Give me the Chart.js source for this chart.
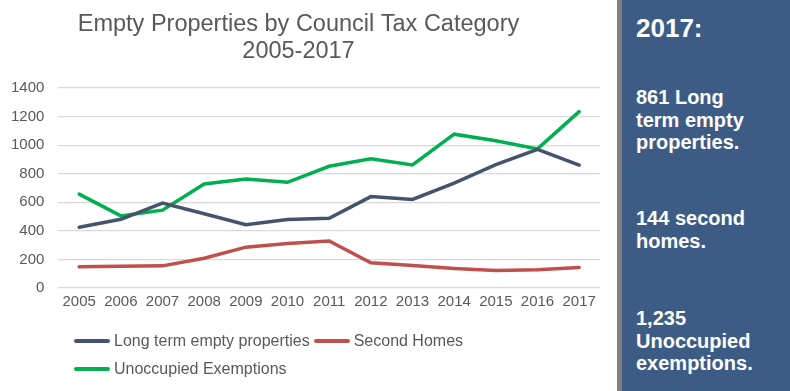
<!DOCTYPE html>
<html>
<head>
<meta charset="utf-8">
<script src="https://cdn.jsdelivr.net/npm/chart.js@4/dist/chart.umd.min.js"></script>
<style>
    html, body { margin: 0; padding: 0; background: #ffffff; }
    body { width: 790px; height: 391px; position: relative; overflow: hidden; font-family: "Liberation Sans", Arial, sans-serif; }
    #wrap { position: absolute; left: 0; top: 0; width: 612px; height: 391px; }
    #legend { position: absolute; left: 74px; top: 327px; width: 400px; display: flex; flex-wrap: wrap; column-gap: 4px; }
    .item { display: flex; align-items: center; height: 28px; font-size: 16px; color: #595959; }
    .swatch { display: inline-block; width: 36px; height: 4px; border-radius: 2px; margin-right: 4px; }
    #panel { position: absolute; left: 617px; top: 0; width: 168px; height: 391px; background: #3d5c85; border-left: 5px solid #808080; color: #ffffff; font-weight: bold; }
    #panel div { position: absolute; left: 14px; font-size: 20px; line-height: 22.5px; }
    #panel .year { font-size: 26px; line-height: 26px; top: 15px; }
</style>
</head>
<body>
<div id="wrap"><canvas id="chart" width="612" height="391"></canvas></div>
<div id="legend"></div>
<div id="panel">
    <div class="year">2017:</div>
    <div style="top: 86px;">861 Long<br>term empty<br>properties.</div>
    <div style="top: 207px;">144 second<br>homes.</div>
    <div style="top: 307px;">1,235<br>Unoccupied<br>exemptions.</div>
</div>

<script>
// data
const years = ['2005', '2006', '2007', '2008', '2009', '2010', '2011', '2012', '2013', '2014', '2015', '2016', '2017'];
const longTermEmpty = [425, 481, 595, 520, 443, 480, 488, 640, 620, 735, 864, 970, 861];
const secondHomes = [148, 153, 155, 208, 286, 312, 329, 176, 157, 137, 123, 128, 144];
const unoccupiedExemptions = [657, 505, 545, 728, 763, 740, 852, 904, 862, 1077, 1031, 974, 1235];

const seriesNames = ['Long term empty properties', 'Second Homes', 'Unoccupied Exemptions'];
const seriesColors = ['#44546a', '#c0504d', '#00b050'];

function makeLineChart(id) {
    const ctx = document.getElementById(id).getContext('2d');
    const values = [longTermEmpty, secondHomes, unoccupiedExemptions];
    const config = {
        type: 'line',
        data: {
            labels: years,
            datasets: values.map((v, i) => ({
                label: seriesNames[i],
                data: v,
                borderColor: seriesColors[i],
                backgroundColor: seriesColors[i],
                borderWidth: 3.5,
                pointRadius: 0,
                tension: 0,
                borderCapStyle: 'round'
            }))
        },
        options: {
            responsive: false,
            animation: false,
            // y axis ends up wider than label + padding, so pull it left a bit
            layout: {
                padding: { left: -3, right: 12, top: 0, bottom: 75 }
            },
            plugins: {
                legend: { display: false },
                tooltip: { enabled: false },
                title: {
                    display: true,
                    text: ['Empty Properties by Council Tax Category', '2005-2017'],
                    color: '#595959',
                    font: { family: '"Liberation Sans", Arial, sans-serif', size: 23.5, weight: 'normal', lineHeight: 1.15 },
                    padding: { top: 11, bottom: 23 }
                }
            },
            scales: {
                x: {
                    offset: true,
                    grid: { display: false, drawTicks: false },
                    border: { display: false },
                    ticks: {
                        color: '#595959',
                        font: { family: '"Liberation Sans", Arial, sans-serif', size: 15 },
                        padding: 5,
                        autoSkip: false,
                        maxRotation: 0
                    }
                },
                y: {
                    min: 0,
                    max: 1400,
                    grid: { color: '#d9d9d9', lineWidth: 1.3, drawTicks: false },
                    border: { display: false },
                    ticks: {
                        stepSize: 200,
                        color: '#595959',
                        font: { family: '"Liberation Sans", Arial, sans-serif', size: 15 },
                        padding: 14,
                        callback: v => String(v)
                    }
                }
            }
        }
    };
    return new Chart(ctx, config);
}

// legend built from the chart's own datasets
function makeLegend(chart) {
    const box = document.getElementById('legend');
    chart.data.datasets.forEach(ds => {
        const item = document.createElement('div');
        item.className = 'item';
        const sw = document.createElement('span');
        sw.className = 'swatch';
        sw.style.background = ds.borderColor;
        item.appendChild(sw);
        item.appendChild(document.createTextNode(ds.label));
        box.appendChild(item);
    });
}

const lineChart = makeLineChart('chart');
makeLegend(lineChart);
</script>
</body>
</html>
